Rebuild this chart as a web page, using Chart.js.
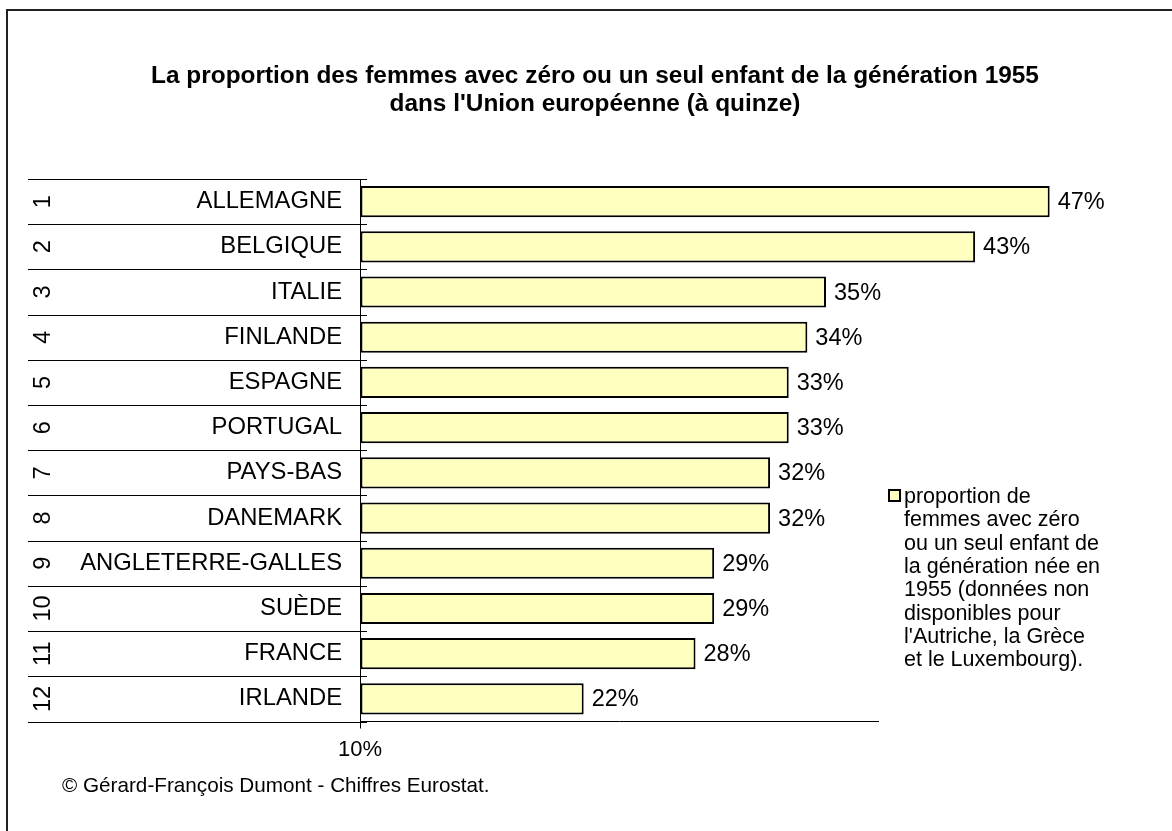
<!DOCTYPE html>
<html>
<head>
<meta charset="utf-8">
<title>Femmes avec zéro ou un seul enfant - génération 1955</title>
<script src="https://cdn.jsdelivr.net/npm/chart.js@4/dist/chart.umd.min.js"></script>
<style>
  html, body { margin: 0; padding: 0; background: #fff; }
  #chart { display: block; }
</style>
</head>
<body>
<canvas id="chart" width="1172" height="831"></canvas>
<script>
// Chart data
const categories = ['ALLEMAGNE', 'BELGIQUE', 'ITALIE', 'FINLANDE', 'ESPAGNE', 'PORTUGAL',
    'PAYS-BAS', 'DANEMARK', 'ANGLETERRE-GALLES', 'SUÈDE', 'FRANCE', 'IRLANDE'];
const ranks = ['1', '2', '3', '4', '5', '6', '7', '8', '9', '10', '11', '12'];
const values = [47, 43, 35, 34, 33, 33, 32, 32, 29, 29, 28, 22];
const xTicks = [10];

const titleLines = [
    'La proportion des femmes avec zéro ou un seul enfant de la génération 1955',
    "dans l'Union européenne (à quinze)"
];
const legendLines = [
    'proportion de',
    'femmes avec zéro',
    'ou un seul enfant de',
    'la génération née en',
    '1955 (données non',
    'disponibles pour',
    "l'Autriche, la Grèce",
    'et le Luxembourg).'
];
const footerText = '© Gérard-François Dumont - Chiffres Eurostat.';

const FONT = "'Liberation Sans', Arial, sans-serif";
const barColor = '#FFFFC0';

// Texts and decorations drawn around the chart area
const decorations = {
    id: 'decorations',
    afterDraw(chart) {
        const ctx = chart.ctx;
        const yScale = chart.scales.y;
        const meta = chart.getDatasetMeta(0);

        ctx.save();
        ctx.fillStyle = '#000';

        // outer frame (left and top)
        ctx.lineWidth = 2;
        ctx.strokeStyle = '#222';
        ctx.beginPath();
        ctx.moveTo(7, 831);
        ctx.lineTo(7, 10);
        ctx.lineTo(1172, 10);
        ctx.stroke();

        // title
        ctx.font = 'bold 24.4px ' + FONT;
        ctx.textAlign = 'center';
        ctx.textBaseline = 'middle';
        titleLines.forEach((line, i) => ctx.fillText(line, 595, 76 + i * 28));

        // row separators of the category axis
        ctx.strokeStyle = '#000';
        ctx.lineWidth = 1;
        for (let i = 0; i <= categories.length; i++) {
            const y = Math.round(yScale.getPixelForValue(i - 0.5)) + 0.5;
            ctx.beginPath();
            ctx.moveTo(28, y);
            ctx.lineTo(chart.chartArea.left + 7, y);
            ctx.stroke();
        }

        // rank numbers, rotated
        ctx.font = '23.5px ' + FONT;
        ctx.textAlign = 'center';
        ctx.textBaseline = 'middle';
        ranks.forEach((r, i) => {
            const y = yScale.getPixelForValue(i);
            ctx.save();
            ctx.translate(44, y);
            ctx.rotate(-Math.PI / 2);
            ctx.fillText(r, 0, 0);
            ctx.restore();
        });

        // value labels
        ctx.textAlign = 'left';
        meta.data.forEach((bar, i) => {
            ctx.fillText(values[i] + '%', bar.x + 8, bar.y + 1);
        });

        // legend
        ctx.fillStyle = barColor;
        ctx.fillRect(889, 490, 11, 11);
        ctx.lineWidth = 2;
        ctx.strokeRect(889, 490, 11, 11);
        ctx.fillStyle = '#000';
        ctx.textBaseline = 'alphabetic';
        ctx.font = '21.5px ' + FONT;
        legendLines.forEach((line, i) => ctx.fillText(line, 904, 503 + i * 23.3));

        // footer
        ctx.font = '20.7px ' + FONT;
        ctx.fillText(footerText, 62, 792);

        ctx.restore();
    }
};

const ctx = document.getElementById('chart');

new Chart(ctx, {
    type: 'bar',
    data: {
        labels: categories,
        datasets: [{
            data: values,
            base: xTicks[0],
            backgroundColor: barColor,
            borderColor: '#000',
            borderWidth: 2,
            borderSkipped: false,
            barPercentage: 0.69,
            categoryPercentage: 1,
            clip: false
        }]
    },
    options: {
        indexAxis: 'y',
        responsive: false,
        animation: false,
        layout: {
            padding: { left: 28, right: 294, top: 179, bottom: 49.5 }
        },
        scales: {
            x: {
                min: 10,
                max: 37.79,
                afterBuildTicks: scale => {
                    scale.ticks = xTicks.map(v => ({ value: v }));
                },
                afterFit: scale => { scale.height = 60; },
                grid: { drawOnChartArea: false, color: '#000', tickLength: 7 },
                border: { color: '#000', width: 1 },
                ticks: {
                    color: '#000',
                    font: { family: FONT, size: 22 },
                    padding: 8,
                    maxRotation: 0,
                    callback: v => v + '%'
                }
            },
            y: {
                afterFit: scale => { scale.width = 332; },
                grid: { drawOnChartArea: false, drawTicks: false },
                border: { color: '#000', width: 1 },
                ticks: {
                    color: '#000',
                    font: { family: FONT, size: 23.8 },
                    padding: 18
                }
            }
        },
        plugins: {
            legend: { display: false },
            tooltip: { enabled: false }
        }
    },
    plugins: [decorations]
});
</script>
</body>
</html>
